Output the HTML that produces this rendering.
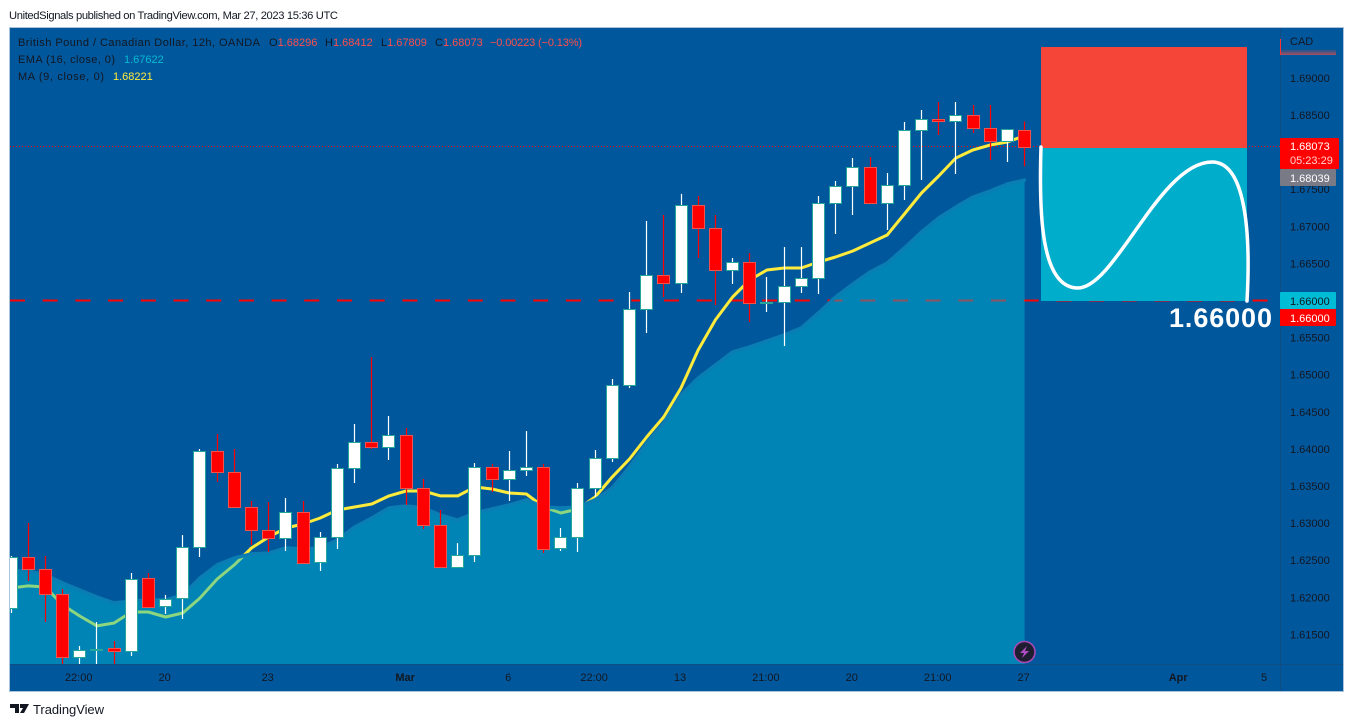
<!DOCTYPE html>
<html lang="en">
<head>
<meta charset="utf-8">
<title>GBP/CAD chart</title>
<style>
html,body{margin:0;padding:0;background:#fff;}
body{width:1354px;height:727px;overflow:hidden;}
svg{display:block;}
text{font-family:"Liberation Sans",sans-serif;font-size:11px;fill:#131722;}
</style>
</head>
<body>
<svg id="chart" xmlns="http://www.w3.org/2000/svg" width="1354" height="727" viewBox="0 0 1354 727">
  <defs>
    <clipPath id="pane"><rect x="10" y="28" width="1270" height="636"/></clipPath>
    <linearGradient id="stripFade" x1="0" y1="0" x2="0" y2="1">
      <stop offset="0" stop-color="#01579b"/>
      <stop offset="1" stop-color="#a8505f"/>
    </linearGradient>
  </defs>
  <text x="9" y="19" style="font-size:11.2px" textLength="329" lengthAdjust="spacing">UnitedSignals published on TradingView.com, Mar 27, 2023 15:36 UTC</text>
  <rect x="9.5" y="27.5" width="1334" height="664" fill="#01579b" stroke="#a9c3dd" stroke-width="1"/>
  <g id="plot" clip-path="url(#pane)"></g>
  <line x1="1280.5" y1="28" x2="1280.5" y2="691" stroke="#0f4d82" stroke-width="1"/>
  <line x1="10" y1="664.5" x2="1343" y2="664.5" stroke="#0f4d82" stroke-width="1"/>
  <rect x="1041" y="148" width="206" height="153" fill="#00adcb"/>
  <rect x="1041" y="47" width="206" height="101" fill="#f44538"/>
  <path d="M1041 147 C1039 210,1040 288,1078 288 C1115 288,1160 162,1212 162 C1245 162,1251 230,1247 301" fill="none" stroke="#fff" stroke-width="3.5" stroke-linecap="round"/>
  <text x="1169" y="327" style="font-size:27px;font-weight:bold;fill:#fff" textLength="103" lengthAdjust="spacing">1.66000</text>

  <g id="y-axis"></g>
  <g id="x-axis"></g>

  <text x="1290" y="45">CAD</text>
  <rect x="1281" y="49" width="55" height="6" fill="url(#stripFade)"/>
  <line x1="1280.5" y1="39" x2="1280.5" y2="55" stroke="#ff3030" stroke-width="1"/>

  <rect x="1280" y="138" width="59" height="31" rx="1" fill="#ff0000"/>
  <text x="1290" y="150" style="fill:#fff">1.68073</text>
  <text x="1290" y="164" style="fill:#ffd0d0">05:23:29</text>
  <rect x="1280" y="169" width="56" height="17" rx="1" fill="#787b86"/>
  <text x="1290" y="182" style="fill:#fff">1.68039</text>
  <rect x="1280" y="292" width="56" height="17" rx="1" fill="#00bcd4"/>
  <text x="1290" y="305">1.66000</text>
  <rect x="1280" y="309" width="56" height="17" rx="1" fill="#ff0000"/>
  <text x="1290" y="322" style="fill:#fff">1.66000</text>

  <g>
    <text x="18" y="46" textLength="242" lengthAdjust="spacing">British Pound / Canadian Dollar, 12h, OANDA</text>
    <text x="269" y="46">O<tspan style="fill:#ff4d4d">1.68296</tspan></text>
    <text x="325" y="46">H<tspan style="fill:#ff4d4d">1.68412</tspan></text>
    <text x="381" y="46">L<tspan style="fill:#ff4d4d">1.67809</tspan></text>
    <text x="435" y="46">C<tspan style="fill:#ff4d4d">1.68073</tspan></text>
    <text x="490" y="46" style="fill:#ff4d4d" textLength="92" lengthAdjust="spacing">−0.00223 (−0.13%)</text>
    <text x="18" y="63" textLength="97" lengthAdjust="spacing">EMA (16, close, 0)</text>
    <text x="124" y="63" style="fill:#00bcd4">1.67622</text>
    <text x="18" y="80" textLength="86" lengthAdjust="spacing">MA (9, close, 0)</text>
    <text x="113" y="80" style="fill:#ffeb3b">1.68221</text>
  </g>

  <g>
    <circle cx="1024.5" cy="652" r="10.5" fill="#1e1e30" stroke="#a848b8" stroke-width="1.6"/>
    <polygon points="1027,646 1020,653 1024,653 1022,658 1029,651 1025,651" fill="#b04cc4"/>
  </g>

  <g>
    <path d="M10 704h9v9h-4v-5h-5z M20 704h9l-5 9h-4l3-5h-3z" fill="#131722"/>
    <text x="33" y="714" style="font-size:13px" textLength="71" lengthAdjust="spacing">TradingView</text>
  </g>
</svg>
<script>
const opens  = [1.61856,1.62543,1.62381,1.62045,1.61196,1.61290,1.61317,1.61277,1.62260,1.61883,1.61991,1.62678,1.63972,1.63689,1.63217,1.62907,1.62799,1.63150,1.62476,1.62813,1.63743,1.64093,1.64026,1.64188,1.63473,1.62975,1.62408,1.62570,1.63756,1.63594,1.63716,1.63756,1.62665,1.62813,1.63473,1.63877,1.64861,1.65886,1.66344,1.66236,1.67287,1.66977,1.66411,1.66518,1.65966,1.65980,1.66195,1.66303,1.67314,1.67543,1.67799,1.67314,1.67557,1.68298,1.68446,1.68419,1.68500,1.68325,1.68150,1.68296];
const highs  = [1.62557,1.63002,1.62557,1.62112,1.61344,1.61667,1.61411,1.62328,1.62328,1.62031,1.62840,1.63999,1.64201,1.63999,1.63298,1.63285,1.63338,1.63298,1.62880,1.63797,1.64336,1.65239,1.64444,1.64282,1.63594,1.63177,1.62732,1.63810,1.63797,1.63972,1.64241,1.63797,1.62934,1.63540,1.63985,1.64942,1.66115,1.67071,1.67152,1.67436,1.67409,1.67152,1.66573,1.66640,1.66317,1.66721,1.66721,1.67409,1.67611,1.67921,1.67934,1.67718,1.68406,1.68568,1.68675,1.68675,1.68635,1.68635,1.68311,1.68412];
const lows   = [1.61789,1.62220,1.61667,1.61047,1.61047,1.60900,1.61047,1.61209,1.61870,1.61775,1.61708,1.62543,1.63554,1.63217,1.62705,1.62610,1.62624,1.62462,1.62355,1.62651,1.63540,1.63999,1.63851,1.63244,1.62921,1.62408,1.62395,1.62476,1.63419,1.63298,1.63635,1.62597,1.62624,1.62610,1.63352,1.63823,1.64821,1.65562,1.66047,1.66101,1.66573,1.65939,1.66222,1.65710,1.65845,1.65387,1.66101,1.66088,1.66896,1.67152,1.67314,1.66950,1.67355,1.67624,1.68231,1.67705,1.68258,1.67894,1.67867,1.67809];
const closes = [1.62543,1.62381,1.62045,1.61196,1.61290,1.61304,1.61277,1.62247,1.61870,1.61977,1.62678,1.63972,1.63689,1.63217,1.62907,1.62799,1.63150,1.62462,1.62813,1.63743,1.64093,1.64026,1.64188,1.63473,1.62975,1.62408,1.62570,1.63756,1.63594,1.63716,1.63756,1.62651,1.62813,1.63473,1.63877,1.64861,1.65886,1.66344,1.66236,1.67287,1.66977,1.66411,1.66518,1.65966,1.65980,1.66195,1.66303,1.67314,1.67543,1.67799,1.67314,1.67557,1.68298,1.68446,1.68419,1.68500,1.68325,1.68150,1.68311,1.68073];
const maValues = [1.62126,1.62153,1.62139,1.61897,1.61748,1.61614,1.61654,1.61802,1.61802,1.61735,1.61789,1.61991,1.62247,1.62436,1.62665,1.62813,1.62934,1.62988,1.63069,1.63177,1.63217,1.63258,1.63366,1.63433,1.63433,1.63366,1.63366,1.63487,1.63460,1.63406,1.63392,1.63217,1.63136,1.63190,1.63352,1.63622,1.63864,1.64161,1.64431,1.64821,1.65333,1.65738,1.66047,1.66276,1.66411,1.66438,1.66438,1.66519,1.66586,1.66667,1.66775,1.66883,1.67166,1.67449,1.67678,1.67921,1.68029,1.68096,1.68136,1.68221];
const emaValues = [1.62355,1.62355,1.62301,1.62193,1.62099,1.62004,1.61923,1.61950,1.61964,1.61964,1.62031,1.62260,1.62436,1.62530,1.62584,1.62597,1.62665,1.62651,1.62665,1.62772,1.62947,1.63069,1.63204,1.63231,1.63204,1.63109,1.63042,1.63136,1.63190,1.63244,1.63312,1.63217,1.63204,1.63217,1.63312,1.63473,1.63756,1.64080,1.64349,1.64727,1.64956,1.65131,1.65306,1.65374,1.65454,1.65535,1.65630,1.65832,1.66047,1.66222,1.66384,1.66505,1.66708,1.66923,1.67112,1.67260,1.67395,1.67476,1.67570,1.67622];
const priceTicks = [1.69,1.685,1.68,1.675,1.67,1.665,1.66,1.655,1.65,1.645,1.64,1.635,1.63,1.625,1.62,1.615];
const timeLabels = ["22:00","20","23","Mar","6","22:00","13","21:00","20","21:00","27","Apr","5"];
const timeSlots = [4,9,15,23,29,34,39,44,49,54,59,68,73];
const boldLabels = ["Mar","Apr"];
const lastPrice = 1.68073;
const linePrice = 1.66;

const NS = "http://www.w3.org/2000/svg";
const xScale = i => 11 + 17.18 * i;
const yScale = p => 300.5 + (1.66 - p) * 7420;
const paneBottom = 664;
const plot = document.getElementById("plot");
const yAxis = document.getElementById("y-axis");
const xAxis = document.getElementById("x-axis");

function make(tag, attrs, parent) {
  const el = document.createElementNS(NS, tag);
  for (const k in attrs) el.setAttribute(k, attrs[k]);
  parent.appendChild(el);
  return el;
}

const dashed = make("line", {x1: 10, x2: 1280, y1: yScale(linePrice), y2: yScale(linePrice), stroke: "#ff0000", "stroke-width": 2, "stroke-dasharray": "15 17.7"}, plot);



const dotted = make("line", {x1: 10, x2: 1280, y1: Math.floor(yScale(lastPrice)) + 0.5, y2: Math.floor(yScale(lastPrice)) + 0.5, stroke: "#ff0000", "stroke-width": 1, "stroke-dasharray": "1 2"}, plot);



const maPoints = maValues.map((v, i) => xScale(i).toFixed(1) + "," + yScale(v).toFixed(1)).join(" ");
const maLine = make("polyline", {points: maPoints, fill: "none", stroke: "#ffeb3b", "stroke-width": 3, "stroke-linejoin": "round"}, plot);



const emaPoints = emaValues.map((v, i) => xScale(i).toFixed(1) + "," + yScale(v).toFixed(1)).join(" ");
const lastX = xScale(emaValues.length - 1).toFixed(1);
const area = make("polygon", {points: "10," + paneBottom + " 10," + yScale(emaValues[0]).toFixed(1) + " " + emaPoints + " " + lastX + "," + paneBottom, fill: "#00bcd4", "fill-opacity": 0.45}, plot);



const emaLine = make("polyline", {points: emaPoints, fill: "none", stroke: "#0a7db3", "stroke-width": 3.5, "stroke-linejoin": "round", "stroke-linecap": "round"}, plot);



closes.forEach((c, i) => {
  const o = opens[i];
  const up = c >= o;
  const cx = Math.floor(xScale(i)) + 0.5;
  const top = Math.round(yScale(Math.max(o, c)));
  const bottom = Math.round(yScale(Math.min(o, c)));
  const wick = make("line", {x1: cx, x2: cx, y1: yScale(highs[i]).toFixed(1), y2: yScale(lows[i]).toFixed(1), stroke: up ? "#ffffff" : "#ff0000", "stroke-width": 1.2}, plot);
  
  
  const body = make("rect", {x: cx - 6, y: top + 0.5, width: 12, height: Math.max(bottom - top, 1), fill: up ? "#ffffff" : "#ff0000", stroke: up ? "#26a69a" : "#ef5350", "stroke-width": 1}, plot);
  
  
});

priceTicks.forEach(p => {
  const t = make("text", {x: 1290, y: (yScale(p) + 4).toFixed(1)}, yAxis);
  t.textContent = p.toFixed(5);
  
  
});

timeLabels.forEach((label, i) => {
  const t = make("text", {x: (xScale(timeSlots[i]) - 1).toFixed(1), y: 681, "text-anchor": "middle"}, xAxis);
  t.textContent = label;
  if (boldLabels.includes(label)) t.style.fontWeight = "bold";
  
  
});
</script>
</body>
</html>
